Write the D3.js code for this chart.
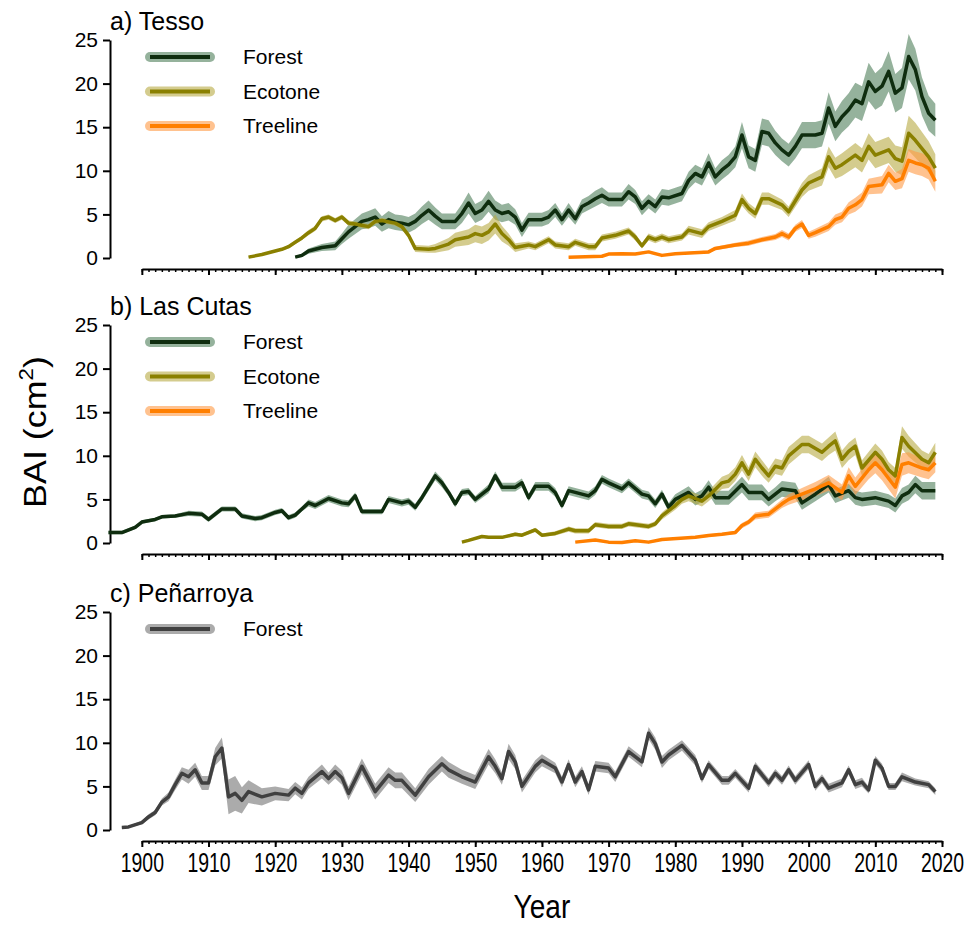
<!DOCTYPE html>
<html>
<head>
<meta charset="utf-8">
<script src="https://cdn.jsdelivr.net/npm/d3@7"></script>
<style>
  body { margin: 0; background: #fff; }
  text { font-family: "Liberation Sans", Arial, sans-serif; fill: #000; }
</style>
</head>
<body>
<svg id="chart" width="966" height="928"></svg>
<script>
// [year, BAI, half-width of the band]
const tessoForest = [[1923,0.1,0.1],[1924,0.3,0.2],[1925,0.8,0.3],[1927,1.2,0.4],[1929,1.4,0.5],[1930,2.2,0.6],[1931,3.0,0.8],[1933,4.2,0.9],[1934,4.4,1.0],[1935,4.7,1.0],[1936,3.9,0.9],[1937,4.4,1.0],[1938,4.1,0.9],[1939,4.0,0.9],[1940,3.8,0.9],[1941,4.2,0.9],[1942,4.9,1.0],[1943,5.5,1.1],[1944,4.8,1.0],[1945,4.2,0.9],[1947,4.2,0.9],[1948,5.1,1.1],[1949,6.3,1.2],[1950,5.1,1.1],[1951,5.5,1.1],[1952,6.5,1.2],[1953,5.5,1.1],[1954,5.1,1.0],[1955,5.3,1.0],[1956,4.7,0.9],[1957,3.2,0.8],[1958,4.4,0.8],[1960,4.4,0.8],[1961,4.7,0.8],[1962,5.5,0.8],[1963,4.4,0.7],[1964,5.5,0.8],[1965,4.5,0.7],[1966,5.9,0.8],[1967,6.3,0.8],[1968,6.8,0.9],[1969,7.2,0.9],[1970,6.7,0.8],[1972,6.7,0.8],[1973,7.6,0.9],[1974,7.0,0.8],[1975,5.7,0.8],[1976,6.5,0.8],[1977,5.9,0.8],[1978,7.0,0.9],[1979,6.9,0.9],[1981,7.4,0.9],[1982,8.9,1.0],[1983,9.7,1.0],[1984,9.3,1.0],[1985,10.9,1.1],[1986,9.3,1.0],[1987,10.1,1.1],[1988,10.7,1.1],[1989,11.6,1.2],[1990,14.1,1.5],[1991,11.6,1.3],[1992,11.2,1.3],[1993,14.5,1.5],[1994,14.3,1.5],[1995,13.2,1.4],[1996,12.4,1.3],[1997,11.8,1.3],[1998,12.8,1.4],[1999,14.1,1.5],[2001,14.1,1.5],[2002,14.3,1.5],[2003,17.2,1.8],[2004,15.1,1.7],[2005,16.2,1.8],[2006,17.0,1.9],[2007,18.1,2.0],[2008,17.7,2.0],[2009,20.2,2.2],[2010,19.1,2.1],[2011,19.7,2.2],[2012,21.4,2.3],[2013,18.9,2.2],[2014,19.5,2.3],[2015,23.1,2.6],[2016,21.6,2.4],[2017,18.5,2.2],[2018,16.6,2.0],[2019,15.8,1.9]];

const tessoEcotone = [[1916,0.1,0.05],[1918,0.4,0.1],[1919,0.6,0.1],[1921,1.0,0.15],[1922,1.3,0.2],[1923,1.8,0.2],[1924,2.3,0.25],[1925,2.9,0.3],[1926,3.4,0.3],[1927,4.5,0.3],[1928,4.7,0.3],[1929,4.3,0.3],[1930,4.7,0.3],[1931,4.0,0.3],[1932,3.9,0.3],[1934,3.6,0.3],[1935,4.2,0.3],[1936,4.3,0.3],[1938,4.0,0.3],[1939,3.6,0.3],[1940,2.6,0.3],[1941,1.1,0.4],[1943,1.0,0.4],[1944,1.1,0.5],[1946,1.6,0.7],[1947,2.1,0.8],[1949,2.4,0.9],[1950,2.8,1.0],[1951,2.6,1.0],[1952,3.0,1.0],[1953,3.9,1.1],[1954,2.8,0.9],[1955,2.1,0.7],[1956,1.2,0.5],[1958,1.5,0.4],[1959,1.3,0.4],[1961,2.1,0.4],[1962,1.5,0.4],[1964,1.3,0.4],[1965,1.8,0.4],[1967,1.3,0.4],[1968,1.3,0.4],[1969,2.3,0.4],[1971,2.6,0.4],[1973,3.1,0.4],[1974,2.4,0.4],[1975,1.4,0.3],[1976,2.4,0.4],[1977,2.1,0.4],[1978,2.4,0.4],[1979,2.1,0.4],[1981,2.4,0.4],[1982,3.2,0.5],[1984,2.8,0.5],[1985,3.6,0.5],[1987,4.2,0.5],[1989,4.9,0.6],[1990,6.7,0.7],[1991,5.7,0.6],[1992,5.1,0.6],[1993,6.8,0.7],[1994,6.8,0.7],[1996,6.1,0.6],[1997,5.3,0.6],[1999,7.8,0.8],[2000,8.6,0.9],[2002,9.3,1.0],[2003,11.6,1.2],[2004,10.3,1.2],[2005,10.7,1.3],[2007,11.8,1.4],[2008,11.2,1.4],[2009,12.8,1.5],[2010,11.8,1.5],[2012,12.4,1.5],[2013,11.4,1.5],[2014,11.1,1.6],[2015,14.3,2.0],[2016,13.5,2.0],[2018,11.6,1.8],[2019,10.3,1.6]];

const tessoTreeline = [[1964,0.1,0.05],[1969,0.2,0.05],[1970,0.45,0.1],[1972,0.5,0.1],[1974,0.45,0.1],[1976,0.7,0.1],[1978,0.3,0.1],[1980,0.5,0.1],[1985,0.7,0.15],[1986,1.1,0.2],[1989,1.5,0.25],[1991,1.7,0.3],[1993,2.1,0.3],[1995,2.4,0.35],[1996,2.8,0.4],[1997,2.4,0.4],[1998,3.4,0.4],[1999,3.9,0.45],[2000,2.6,0.4],[2001,2.9,0.45],[2003,3.6,0.5],[2004,4.4,0.6],[2005,4.7,0.6],[2006,5.7,0.7],[2007,6.1,0.8],[2008,6.7,0.8],[2009,8.2,0.9],[2011,8.4,1.0],[2012,9.7,1.0],[2013,8.8,1.0],[2014,9.1,1.1],[2015,11.2,1.3],[2016,10.9,1.3],[2017,10.7,1.3],[2018,10.3,1.3],[2019,8.8,1.2]];

const cutasForest = [[1895,1.2,0.2],[1897,1.2,0.2],[1899,1.8,0.2],[1900,2.4,0.2],[1902,2.7,0.2],[1903,3.0,0.2],[1905,3.1,0.2],[1907,3.4,0.3],[1909,3.3,0.3],[1910,2.7,0.3],[1911,3.3,0.3],[1912,3.9,0.3],[1914,3.9,0.3],[1915,3.1,0.3],[1917,2.8,0.3],[1918,2.9,0.3],[1920,3.5,0.3],[1921,3.7,0.3],[1922,2.9,0.3],[1923,3.2,0.3],[1924,3.9,0.3],[1925,4.6,0.4],[1926,4.3,0.4],[1928,5.1,0.4],[1930,4.6,0.4],[1931,4.5,0.4],[1932,5.4,0.4],[1933,3.6,0.3],[1936,3.6,0.3],[1937,5.0,0.4],[1939,4.6,0.4],[1940,4.8,0.4],[1941,4.1,0.4],[1942,5.2,0.4],[1944,7.7,0.5],[1945,6.9,0.5],[1946,5.8,0.4],[1947,4.5,0.4],[1948,5.8,0.4],[1949,5.9,0.4],[1950,5.0,0.4],[1952,6.2,0.5],[1953,7.7,0.5],[1954,6.4,0.5],[1956,6.4,0.5],[1957,6.9,0.5],[1958,5.2,0.4],[1959,6.5,0.5],[1961,6.5,0.5],[1962,5.8,0.5],[1963,4.3,0.4],[1964,6.0,0.5],[1967,5.4,0.5],[1968,6.0,0.5],[1969,7.3,0.5],[1970,6.9,0.5],[1972,6.2,0.5],[1973,6.9,0.5],[1975,5.6,0.5],[1976,5.4,0.5],[1977,4.5,0.5],[1978,5.6,0.5],[1979,4.1,0.5],[1980,5.0,0.6],[1982,5.8,0.7],[1983,5.0,0.7],[1984,5.4,0.7],[1985,6.4,0.8],[1986,5.2,0.8],[1988,5.2,0.8],[1990,6.7,0.9],[1991,5.8,0.9],[1993,5.8,0.9],[1994,5.0,0.8],[1995,5.6,0.8],[1996,6.2,0.9],[1998,6.0,0.9],[1999,4.6,0.8],[2001,5.6,0.8],[2003,6.7,0.9],[2004,5.4,0.8],[2006,6.0,0.8],[2007,5.2,0.8],[2008,5.0,0.8],[2010,5.2,0.8],[2012,4.8,0.8],[2013,4.3,0.8],[2014,5.4,0.9],[2015,5.8,0.9],[2016,6.7,1.0],[2017,6.0,1.0],[2019,6.0,1.0]];

const cutasEcotone = [[1948,0.1,0.05],[1949,0.3,0.1],[1951,0.75,0.15],[1952,0.65,0.15],[1954,0.65,0.15],[1956,1.0,0.2],[1957,0.9,0.2],[1959,1.5,0.25],[1960,0.9,0.2],[1962,1.1,0.25],[1964,1.6,0.3],[1965,1.4,0.3],[1967,1.4,0.3],[1968,2.1,0.3],[1970,1.9,0.3],[1972,1.9,0.3],[1973,2.2,0.3],[1976,1.9,0.3],[1977,2.2,0.3],[1978,3.1,0.4],[1980,4.3,0.5],[1981,5.0,0.5],[1982,5.4,0.6],[1984,4.8,0.6],[1985,5.4,0.6],[1987,6.9,0.7],[1988,7.1,0.8],[1989,7.9,0.8],[1990,9.2,0.9],[1991,7.9,0.8],[1992,9.6,0.9],[1993,8.6,0.9],[1994,7.7,0.8],[1995,8.8,0.9],[1996,8.6,0.9],[1997,10.0,1.0],[1999,11.3,1.0],[2000,11.3,1.0],[2002,10.4,1.0],[2003,11.1,1.0],[2004,11.7,1.1],[2005,9.6,1.0],[2006,10.5,1.0],[2007,11.1,1.0],[2008,8.6,0.9],[2010,10.4,1.0],[2011,9.6,1.0],[2012,8.4,0.9],[2013,7.7,0.9],[2014,12.1,1.3],[2015,11.1,1.2],[2017,9.6,1.0],[2018,9.2,1.0],[2019,10.4,1.1]];

const cutasTreeline = [[1965,0.1,0.05],[1968,0.35,0.05],[1970,0.1,0.05],[1972,0.05,0.05],[1974,0.25,0.05],[1976,0.1,0.05],[1978,0.4,0.1],[1983,0.65,0.1],[1985,0.85,0.15],[1987,1.0,0.15],[1989,1.2,0.2],[1990,2.0,0.3],[1991,2.4,0.3],[1992,3.1,0.4],[1994,3.3,0.4],[1996,4.5,0.5],[1997,5.0,0.6],[1999,5.6,0.7],[2001,6.2,0.8],[2003,6.9,0.9],[2005,5.8,0.9],[2006,7.7,1.0],[2007,6.5,1.0],[2009,8.4,1.1],[2010,9.2,1.2],[2011,8.4,1.2],[2013,6.4,1.3],[2014,9.0,1.3],[2015,9.2,1.2],[2017,8.6,1.1],[2018,8.4,1.1],[2019,9.2,1.1]];

const penarroyaForest = [[1897,0.3,0.1],[1898,0.35,0.1],[1900,0.85,0.2],[1901,1.5,0.3],[1902,2.0,0.3],[1903,3.2,0.4],[1904,3.8,0.5],[1905,5.2,0.6],[1906,6.5,0.7],[1907,6.1,0.8],[1908,6.9,0.8],[1909,5.4,0.8],[1910,5.4,0.8],[1911,8.4,1.0],[1912,9.4,1.2],[1913,3.8,2.0],[1914,4.2,2.0],[1915,3.4,1.5],[1916,4.4,1.3],[1918,3.8,1.0],[1920,4.2,0.8],[1922,4.0,0.7],[1923,4.8,0.7],[1924,4.2,0.7],[1925,5.4,0.7],[1927,6.7,0.8],[1928,5.9,0.7],[1929,6.7,0.8],[1930,6.0,0.8],[1931,4.2,0.8],[1933,7.3,0.9],[1935,4.4,0.9],[1937,6.3,0.9],[1938,5.7,0.9],[1939,5.7,0.9],[1941,4.0,0.8],[1943,6.1,0.9],[1945,7.6,0.9],[1946,6.9,0.9],[1948,6.1,0.8],[1950,5.5,0.8],[1952,8.4,0.9],[1953,7.3,0.8],[1954,5.9,0.7],[1955,9.0,0.9],[1956,7.8,0.8],[1957,5.0,0.7],[1959,7.3,0.7],[1960,8.0,0.7],[1962,7.1,0.6],[1963,5.5,0.6],[1964,7.5,0.6],[1965,5.5,0.6],[1966,6.7,0.6],[1967,4.6,0.6],[1968,7.3,0.6],[1970,7.1,0.6],[1971,6.1,0.6],[1973,9.0,0.6],[1975,7.8,0.6],[1976,11.1,0.7],[1977,9.9,0.7],[1978,7.8,0.7],[1979,8.6,0.6],[1981,9.7,0.6],[1983,8.0,0.6],[1984,5.9,0.5],[1985,7.5,0.5],[1987,5.7,0.5],[1988,5.7,0.5],[1989,6.5,0.5],[1991,4.8,0.5],[1992,7.3,0.5],[1994,5.4,0.5],[1995,6.5,0.5],[1996,5.7,0.5],[1997,6.9,0.5],[1998,5.7,0.5],[2000,7.5,0.5],[2001,5.0,0.5],[2002,5.9,0.5],[2003,4.8,0.5],[2005,5.4,0.5],[2006,6.9,0.5],[2007,5.2,0.5],[2008,5.5,0.5],[2009,4.6,0.4],[2010,8.0,0.5],[2011,7.1,0.5],[2012,5.0,0.4],[2013,5.0,0.4],[2014,6.1,0.5],[2016,5.5,0.4],[2018,5.2,0.4],[2019,4.4,0.4]];

const yTicks = [0, 5, 10, 15, 20, 25];
const majorYears = d3.range(1900, 2021, 10);
const minorYears = d3.range(1900, 2021);

// line colour, band colour
const styles = {
    "Forest": { line: "#0f2d0f", band: "#4f7f5a" },
    "Ecotone": { line: "#8a8000", band: "#b7aa43" },
    "Treeline": { line: "#ff7f00", band: "#ff9944" },
    "ForestGrey": { line: "#404040", band: "#737373" }
};

const panels = [
    { title: "a) Tesso", top: 40, series: [["Forest", tessoForest, "Forest"], ["Ecotone", tessoEcotone, "Ecotone"], ["Treeline", tessoTreeline, "Treeline"]] },
    { title: "b) Las Cutas", top: 325, series: [["Forest", cutasForest, "Forest"], ["Ecotone", cutasEcotone, "Ecotone"], ["Treeline", cutasTreeline, "Treeline"]] },
    { title: "c) Peñarroya", top: 612, series: [["Forest", penarroyaForest, "ForestGrey"]] }
];

const svg = d3.select("#chart");
const panelHeight = 218;
const axisX = 110;

const x = d3.scaleLinear().domain([1895, 2020]).range([108.5, 942]);
// x axis line only runs 1900-2020
const xAxisScale = d3.scaleLinear().domain([1900, 2020]).range([x(1900), x(2020)]);

panels.forEach((p, pi) => {
    const y = d3.scaleLinear().domain([0, 25]).range([p.top + panelHeight, p.top]);
    const g = svg.append("g");

    // title
    g.append("text")
        .attr("x", axisX)
        .attr("y", p.top - 10)
        .attr("font-size", "25px")
        .text(p.title);

    // y axis
    const yAxis = g.append("g")
        .attr("transform", `translate(${axisX},0)`)
        .call(d3.axisLeft(y).tickValues(yTicks).tickSize(7).tickSizeOuter(0).tickPadding(5));
    yAxis.selectAll("path, line").attr("stroke", "#000").attr("stroke-width", 2);
    yAxis.selectAll("text").attr("font-size", "21px").attr("fill", "#000")
        .style("font-family", "'Liberation Sans', Arial, sans-serif");

    // x axis (minor + major ticks)
    const xY = p.top + panelHeight + 11;
    const minor = g.append("g")
        .attr("transform", `translate(0,${xY})`)
        .call(d3.axisBottom(xAxisScale).tickValues(minorYears).tickSize(3).tickSizeOuter(0).tickFormat(""));
    minor.selectAll("line").attr("stroke", "#000").attr("stroke-width", 1.5);
    minor.select(".domain").attr("stroke", "#000").attr("stroke-width", 2);

    const major = g.append("g")
        .attr("transform", `translate(0,${xY})`)
        .call(d3.axisBottom(xAxisScale).tickValues(majorYears).tickSize(6).tickSizeOuter(0).tickPadding(6)
            .tickFormat(pi === panels.length - 1 ? d3.format("d") : ""));
    major.select(".domain").remove();
    major.selectAll("line").attr("stroke", "#000").attr("stroke-width", 2);
    // year labels are tall and narrow in the original
    major.selectAll("text").attr("font-size", "27px").attr("fill", "#000")
        .attr("transform", "scale(0.72,1)")
        .style("font-family", "'Liberation Sans', Arial, sans-serif");

    // bands first, then lines
    const area = d3.area()
        .x(d => x(d[0]))
        .y0(d => y(Math.max(0, d[1] - d[2])))
        .y1(d => y(d[1] + d[2]));
    const line = d3.line()
        .x(d => x(d[0]))
        .y(d => y(d[1]));

    p.series.forEach(s => {
        g.append("path")
            .datum(s[1])
            .attr("d", area)
            .attr("fill", styles[s[2]].band)
            .attr("fill-opacity", 0.6);
    });
    p.series.forEach(s => {
        g.append("path")
            .datum(s[1])
            .attr("d", line)
            .attr("fill", "none")
            .attr("stroke", styles[s[2]].line)
            .attr("stroke-width", 3.5)
            .attr("stroke-linejoin", "round");
    });

    // legend
    const legend = g.selectAll(".legend")
        .data(p.series)
        .enter().append("g")
        .attr("transform", (d, i) => `translate(0,${p.top + 17 + i * 34.5})`);
    legend.append("line")
        .attr("x1", 150).attr("x2", 210)
        .attr("stroke", d => styles[d[2]].band)
        .attr("stroke-opacity", 0.6)
        .attr("stroke-width", 10)
        .attr("stroke-linecap", "round");
    legend.append("line")
        .attr("x1", 150).attr("x2", 210)
        .attr("stroke", d => styles[d[2]].line)
        .attr("stroke-width", 4);
    legend.append("text")
        .attr("x", 243)
        .attr("dy", "0.35em")
        .attr("font-size", "21px")
        .text(d => d[0]);
});

// axis titles
svg.append("text")
    .attr("transform", `translate(${(x(1900) + x(2020)) / 2},918) scale(0.85,1)`)
    .attr("text-anchor", "middle")
    .attr("font-size", "33px")
    .text("Year");

const yLab = svg.append("text")
    .attr("transform", "translate(46,432) rotate(-90) scale(1.12,1)")
    .attr("text-anchor", "middle")
    .attr("font-size", "32px");
yLab.append("tspan").text("BAI (cm");
yLab.append("tspan").attr("font-size", "20px").attr("dy", "-13").text("2");
yLab.append("tspan").attr("dy", "13").text(")");
</script>
</body>
</html>
